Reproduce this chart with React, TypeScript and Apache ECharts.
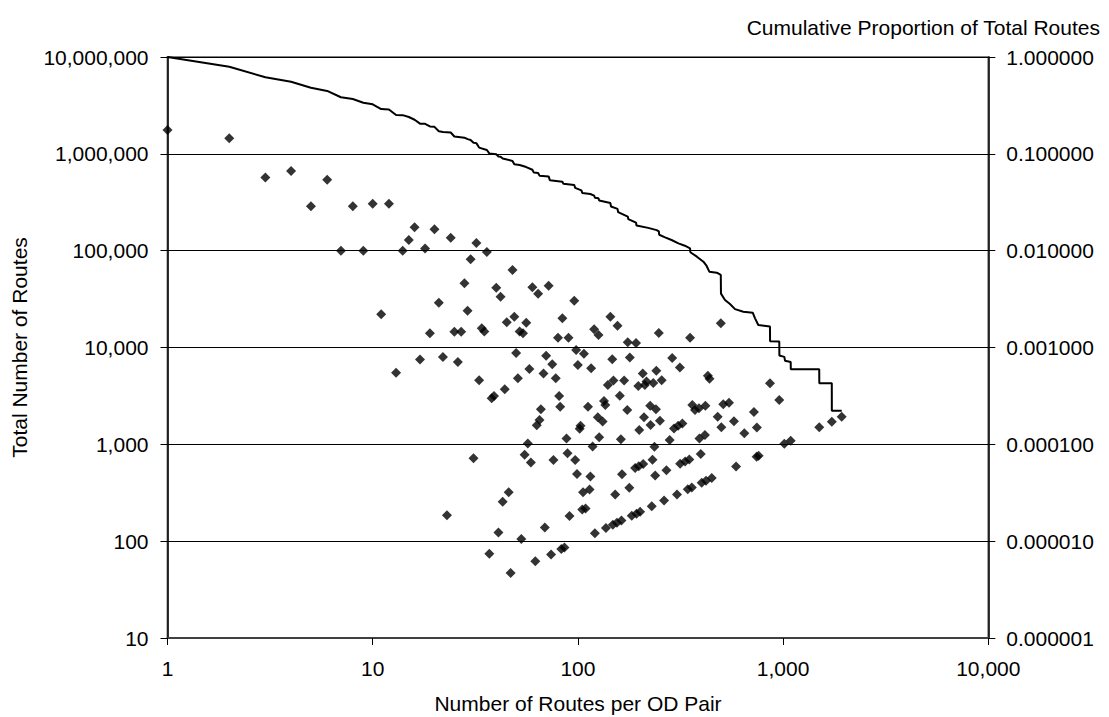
import React, { useEffect, useRef } from "react";
import * as echarts from "echarts";

// Scatter: number of routes per OD pair vs total number of routes
const routesPerPair = [
  1, 2, 3, 4, 5, 6, 7, 8, 9, 10, 11, 12, 13, 14, 15, 16, 17, 18, 19, 20,
  21, 22, 23, 24, 25, 26, 27, 28, 29, 30, 31, 32, 33, 34, 35, 36, 37, 38, 39, 40,
  41, 42, 43, 44, 45, 46, 47, 48, 49, 50, 51, 52, 53, 54, 55, 56, 57, 58, 59, 60,
  62, 63, 64, 65, 66, 68, 69, 70, 72, 74, 75, 76, 78, 80, 81, 82, 83, 84, 86, 88,
  89, 90, 91, 96, 97, 98, 99, 100, 102, 103, 105, 106, 107, 109, 112, 114, 115, 116, 118, 120,
  121, 125, 126, 127, 132, 134, 136, 137, 140, 144, 147, 148, 149, 152, 155, 156, 160, 162, 163, 164,
  168, 174, 175, 178, 179, 183, 190, 192, 193, 197, 198, 199, 201, 207, 208, 210, 212, 216, 225, 226,
  229, 231, 233, 236, 238, 240, 241, 248, 251, 256, 263, 270, 280, 288, 294, 304, 308, 314, 315, 323,
  333, 343, 349, 352, 359, 361, 372, 389, 391, 397, 401, 416, 418, 421, 430, 438, 449, 480, 497, 500,
  511, 545, 576, 590, 647, 721, 743, 745, 760, 863, 958, 1014, 1089, 1500, 1727, 1930
];
const totalRoutes = [
  1760000, 1450000, 570000, 665000, 287000, 540000, 100000, 287000, 100000, 305000, 22000, 305000, 5500, 100000, 129000, 175000, 7500, 105000, 14000, 166000,
  29000, 8000, 185, 136000, 14500, 7100, 14500, 46000, 24000, 81500, 720, 120000, 4600, 15800, 14600, 97000, 74, 3000, 3150, 41500,
  123, 33500, 255, 3700, 18200, 320, 47, 63000, 20800, 8800, 4800, 14600, 105, 14000, 780, 18000, 1020, 6000, 650, 42000,
  62, 1570, 36000, 1780, 2300, 5400, 138, 8200, 43500, 73, 6700, 690, 4800, 12600, 3150, 2450, 83, 20000, 86, 1150,
  810, 12600, 182, 30400, 690, 9400, 495, 6600, 1450, 1560, 212, 320, 8600, 218, 2450, 342, 465, 6100, 950, 15400,
  121, 1900, 13500, 1180, 1720, 2800, 2550, 137, 4100, 20800, 7550, 148, 4550, 304, 155, 16800, 3180, 1130, 163, 490,
  4550, 2260, 11300, 356, 7900, 183, 570, 11100, 192, 4000, 595, 1410, 201, 5400, 625, 1900, 4100, 4450, 2500, 1580,
  229, 693, 4300, 944, 476, 2300, 5750, 14100, 1750, 4600, 263, 540, 1110, 7800, 1460, 304, 1560, 6200, 630, 1640,
  666, 343, 698, 12600, 359, 2550, 2260, 2360, 1150, 794, 401, 1250, 2500, 421, 5100, 4750, 449, 1930, 17800, 1500,
  2590, 2690, 1730, 590, 1300, 2160, 743, 1490, 760, 4270, 2870, 1014, 1089, 1500, 1710, 1930
];

// Cumulative proportion of total routes (right axis)
const cumRoutesPerPair = [
  1, 2, 3, 4, 5, 6, 7, 8, 9, 10, 11, 12, 13, 14, 15, 16, 17, 18, 19, 20,
  21, 22, 24, 25, 28, 29, 30, 31, 32, 33, 36, 37, 40, 41, 42, 43, 48, 49, 52, 56,
  60, 61, 64, 65, 72, 73, 84, 85, 96, 97, 104, 105, 115, 120, 121, 126, 127, 144, 145, 156,
  157, 175, 176, 192, 193, 220, 242, 248, 249, 266, 286, 309, 332, 352, 353, 359, 380, 409, 424, 437,
  475, 497, 498, 521, 551, 583, 640, 711, 730, 757, 863, 864, 958, 959, 1014, 1022, 1089, 1090, 1500, 1501,
  1727, 1728, 1930
];
const cumProportion = [
  1.0, 0.794, 0.617, 0.556, 0.482, 0.446, 0.384, 0.368, 0.337, 0.325, 0.29, 0.2875, 0.252, 0.251, 0.24, 0.225, 0.205, 0.204, 0.192, 0.19,
  0.171, 0.168, 0.166, 0.151, 0.147, 0.142, 0.139, 0.13, 0.129, 0.116, 0.1096, 0.101, 0.099, 0.094, 0.0935, 0.0895, 0.0845, 0.078, 0.0767, 0.073,
  0.0685, 0.064, 0.0635, 0.0595, 0.0585, 0.0535, 0.0515, 0.049, 0.0476, 0.0445, 0.042, 0.0395, 0.0385, 0.037, 0.0352, 0.0347, 0.033, 0.031, 0.0286, 0.027,
  0.025, 0.0225, 0.0212, 0.0195, 0.0182, 0.0172, 0.0163, 0.0158, 0.0146, 0.01374, 0.01289, 0.01191, 0.01125, 0.01057, 0.0097, 0.0094, 0.00867, 0.00769, 0.00695, 0.00607,
  0.00592, 0.00561, 0.0036, 0.00309, 0.00281, 0.00249, 0.00234, 0.00229, 0.002, 0.00171, 0.00165, 0.00116, 0.00115, 0.000825, 0.0008, 0.00073, 0.00071, 0.000595, 0.000595, 0.000427,
  0.000427, 0.000222, 0.000222
];

const xAxisTitle = "Number of Routes per OD Pair";
const leftAxisTitle = "Total Number of Routes";
const rightAxisTitle = "Cumulative Proportion of Total Routes";

const FONT = "'Liberation Sans', Arial, sans-serif";
const FS = 21;

export default function App() {
  const ref = useRef<HTMLDivElement>(null);
  useEffect(() => {
    if (!ref.current) return;
    const chart = echarts.init(ref.current, null, { renderer: "svg" });
    const scatterData = routesPerPair.map((x, i) => [x, totalRoutes[i]]);
    const lineData = cumRoutesPerPair.map((x, i) => [x, cumProportion[i]]);
    const labelStyle = { color: "#000", fontFamily: FONT, fontSize: FS };
    chart.setOption({
      animation: false,
      backgroundColor: "#fff",
      grid: {
        left: 167.5,
        right: 120.7,
        top: 57,
        bottom: 79,
        show: true,
        borderColor: "#808080",
        borderWidth: 2,
        backgroundColor: "transparent",
      },
      xAxis: {
        type: "log",
        logBase: 10,
        min: 1,
        max: 10000,
        axisLine: { show: true, onZero: false, lineStyle: { color: "#404040", width: 2 } },
        axisTick: { show: true, inside: false, length: 7, lineStyle: { color: "#000", width: 1 } },
        minorTick: { show: false },
        splitLine: { show: false },
        axisLabel: {
          ...labelStyle,
          margin: 20,
          formatter: (v: number) => Math.round(v).toLocaleString("en-US"),
        },
      },
      yAxis: [
        {
          type: "log",
          logBase: 10,
          min: 10,
          max: 10000000,
          position: "left",
          axisLine: { show: true, onZero: false, lineStyle: { color: "#000", width: 1.5 } },
          axisTick: { show: true, inside: false, length: 7, lineStyle: { color: "#000", width: 1 } },
          minorTick: { show: false },
          splitLine: { show: true, lineStyle: { color: "#000", width: 1 } },
          axisLabel: {
            ...labelStyle,
            margin: 19,
            formatter: (v: number) => Math.round(v).toLocaleString("en-US"),
          },
        },
        {
          type: "log",
          logBase: 10,
          min: 0.000001,
          max: 1,
          position: "right",
          axisLine: { show: true, onZero: false, lineStyle: { color: "#000", width: 1.5 } },
          axisTick: { show: true, inside: false, length: 7, lineStyle: { color: "#000", width: 1 } },
          minorTick: { show: false },
          splitLine: { show: false },
          axisLabel: {
            ...labelStyle,
            margin: 18,
            formatter: (v: number) => Number(v).toFixed(6),
          },
        },
      ],
      graphic: [
        {
          type: "text",
          x: 19,
          y: 347.5,
          rotation: Math.PI / 2,
          style: {
            text: leftAxisTitle,
            fill: "#000",
            font: `${FS}px ${FONT}`,
            align: "center",
            verticalAlign: "middle",
          },
        },
        {
          type: "text",
          x: 578,
          y: 703,
          style: {
            text: xAxisTitle,
            fill: "#000",
            font: `${FS}px ${FONT}`,
            align: "center",
            verticalAlign: "middle",
          },
        },
        {
          type: "text",
          x: 1100,
          y: 27,
          style: {
            text: rightAxisTitle,
            fill: "#000",
            font: `${FS}px ${FONT}`,
            align: "right",
            verticalAlign: "middle",
          },
        },
      ],
      series: [
        {
          type: "scatter",
          xAxisIndex: 0,
          yAxisIndex: 0,
          symbol: "diamond",
          symbolSize: 10,
          itemStyle: { color: "#000" },
          clip: false,
          data: scatterData,
          z: 3,
        },
        {
          type: "line",
          xAxisIndex: 0,
          yAxisIndex: 1,
          showSymbol: false,
          symbol: "none",
          lineStyle: { color: "#000", width: 2 },
          data: lineData,
          z: 4,
        },
      ],
    });
    return () => chart.dispose();
  }, []);
  return (
    <div
      ref={ref}
      style={{ position: "fixed", left: 0, top: 0, width: 1109, height: 717, background: "#fff" }}
    />
  );
}
